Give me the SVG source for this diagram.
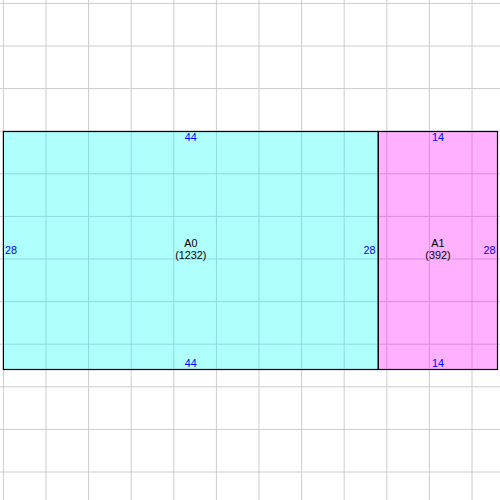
<svg xmlns="http://www.w3.org/2000/svg" width="500" height="500" viewBox="0 0 500 500">
<style>
.grid line{stroke:#cccccc;stroke-width:1}
.lbl{font-family:"Liberation Sans",Arial,sans-serif;font-size:10.8px;fill:#000;text-anchor:middle}
.dim{font-family:"Liberation Sans",Arial,sans-serif;font-size:10.8px;fill:#0000ff}
.room{stroke:#000;stroke-width:1.2;fill-opacity:0.31}
</style>
<rect x="0" y="0" width="500" height="500" fill="#ffffff"/>
<g class="grid">
<line x1="3.4" y1="0" x2="3.4" y2="500"/>
<line x1="46" y1="0" x2="46" y2="500"/>
<line x1="88.6" y1="0" x2="88.6" y2="500"/>
<line x1="131.2" y1="0" x2="131.2" y2="500"/>
<line x1="173.8" y1="0" x2="173.8" y2="500"/>
<line x1="216.4" y1="0" x2="216.4" y2="500"/>
<line x1="259" y1="0" x2="259" y2="500"/>
<line x1="301.6" y1="0" x2="301.6" y2="500"/>
<line x1="344.2" y1="0" x2="344.2" y2="500"/>
<line x1="386.8" y1="0" x2="386.8" y2="500"/>
<line x1="429.4" y1="0" x2="429.4" y2="500"/>
<line x1="472" y1="0" x2="472" y2="500"/>
<line x1="0" y1="3.4" x2="500" y2="3.4"/>
<line x1="0" y1="46" x2="500" y2="46"/>
<line x1="0" y1="88.6" x2="500" y2="88.6"/>
<line x1="0" y1="131.2" x2="500" y2="131.2"/>
<line x1="0" y1="173.8" x2="500" y2="173.8"/>
<line x1="0" y1="216.4" x2="500" y2="216.4"/>
<line x1="0" y1="259" x2="500" y2="259"/>
<line x1="0" y1="301.6" x2="500" y2="301.6"/>
<line x1="0" y1="344.2" x2="500" y2="344.2"/>
<line x1="0" y1="386.8" x2="500" y2="386.8"/>
<line x1="0" y1="429.4" x2="500" y2="429.4"/>
<line x1="0" y1="472" x2="500" y2="472"/>
</g>
<g id="A0">
<rect class="room" x="3.4" y="131.5" width="374.9" height="238" fill="#00ffff"/>
<text class="lbl" x="190.8" y="247">A0</text>
<text class="lbl" x="190.8" y="259">(1232)</text>
<text class="dim" x="190.8" y="141" text-anchor="middle">44</text>
<text class="dim" x="190.8" y="366.5" text-anchor="middle">44</text>
<text class="dim" x="5" y="253.5" text-anchor="start">28</text>
<text class="dim" x="375.5" y="253.5" text-anchor="end">28</text>
</g>
<g id="A1">
<rect class="room" x="378.3" y="131.5" width="119.2" height="238" fill="#ff00ff"/>
<text class="lbl" x="437.9" y="247">A1</text>
<text class="lbl" x="437.9" y="259">(392)</text>
<text class="dim" x="437.9" y="141" text-anchor="middle">14</text>
<text class="dim" x="437.9" y="366.5" text-anchor="middle">14</text>
<text class="dim" x="495.5" y="253.5" text-anchor="end">28</text>
</g>
<g id="connectors"/>
</svg>
